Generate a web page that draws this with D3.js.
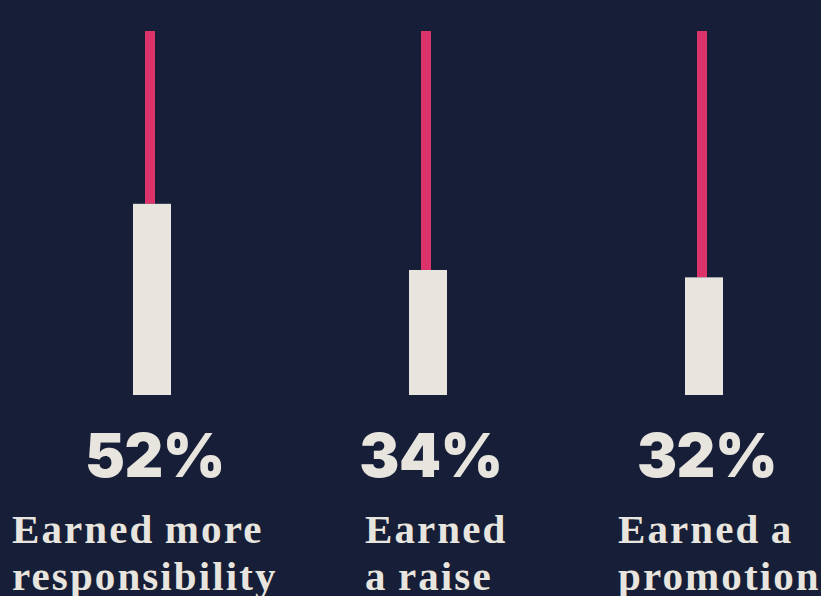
<!DOCTYPE html>
<html>
<head>
<meta charset="utf-8">
<script src="https://cdn.jsdelivr.net/npm/d3@7"></script>
<style>
  html, body { margin: 0; padding: 0; background: #161e38; overflow: hidden; }
</style>
</head>
<body>
<svg id="chart" width="821" height="596"></svg>
<script>
// data
const categories = ["responsibility", "raise", "promotion"];
const values = [52, 34, 32];
const captions = [
  ["Earned more", "responsibility"],
  ["Earned", "a raise"],
  ["Earned a", "promotion"]
];

const svg = d3.select("#chart"),
    width = +svg.attr("width"),
    height = +svg.attr("height");

const bg = "#161e38", cream = "#e8e5df", pink = "#dc346a";
const captionDx = [-140, -63, -86]; // caption left edge relative to column centre

svg.append("rect").attr("width", width).attr("height", height).attr("fill", bg);

const x = d3.scalePoint()
    .domain(categories)
    .range([152, 704]);

const y = d3.scaleLinear()
    .domain([0, 99])
    .range([395, 31]);

const barW = 38, lineW = 10;

const cols = svg.append("g")
  .selectAll("g")
  .data(categories.map((c, i) => ({ key: c, value: values[i], caption: captions[i], dx: captionDx[i] })))
  .join("g")
  .attr("transform", d => `translate(${x(d.key)},0)`);

// pink stem up to the top
cols.append("rect")
  .attr("x", -lineW / 2 - 2)
  .attr("y", y(99))
  .attr("width", lineW)
  .attr("height", d => y(d.value) - y(99))
  .attr("fill", pink);

// cream bar
cols.append("rect")
  .attr("x", -barW / 2)
  .attr("y", d => y(d.value))
  .attr("width", barW)
  .attr("height", d => y(0) - y(d.value))
  .attr("fill", cream);

// percentage labels
cols.append("text")
  .attr("x", 3)
  .attr("y", 477)
  .attr("text-anchor", "middle")
  .style("font-family", "Inter, Lato, sans-serif")
  .style("font-weight", 900)
  .style("font-size", "60px")
  .style("letter-spacing", "-0.5px")
  .style("fill", cream)
  .text(d => d.value + "%");

// captions
cols.append("text")
  .style("font-family", "'Liberation Serif', 'DejaVu Serif', serif")
  .style("font-weight", 700)
  .style("font-size", "41px")
  .style("letter-spacing", "2.1px")
  .style("word-spacing", "-2px")
  .style("fill", cream)
  .selectAll("tspan")
  .data(d => d.caption.map(line => ({ line, dx: d.dx })))
  .join("tspan")
  .attr("x", d => d.dx)
  .attr("y", (d, i) => 543 + i * 47)
  .text(d => d.line);
</script>
</body>
</html>
